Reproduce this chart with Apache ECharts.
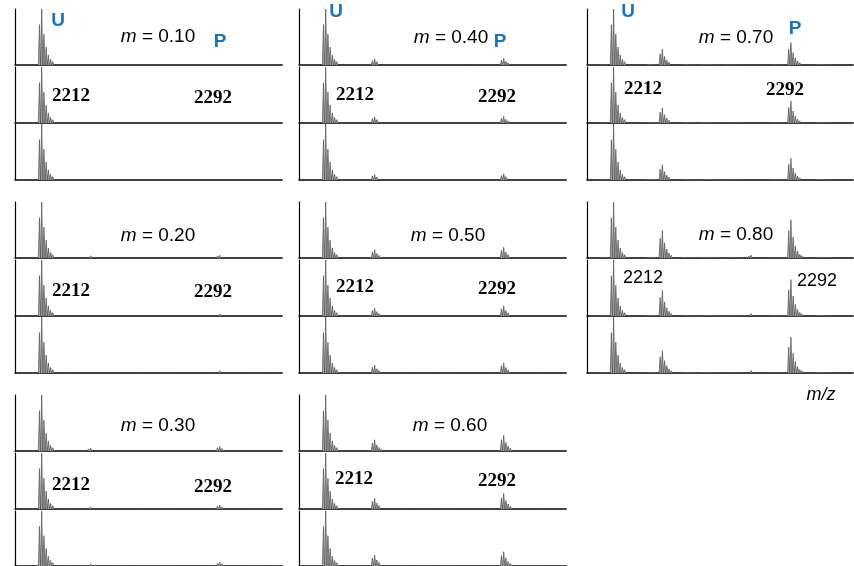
<!DOCTYPE html>
<html>
<head>
<meta charset="utf-8">
<script src="https://cdn.jsdelivr.net/npm/echarts@6/dist/echarts.min.js"></script>
<style>
html,body{margin:0;padding:0;background:#fff;}
#chart{width:854px;height:566px;}
</style>
</head>
<body>
<div id="chart"></div>
<script>
// ---- data ----
const mLabels = ['0.10', '0.20', '0.30', '0.40', '0.50', '0.60', '0.70', '0.80'];
const mzRange = [2200, 2320];
// isotope envelope relative to the most intense isotope (offset in Da from it)
const isotopeOffset = [-1, 0, 1, 2, 3, 4, 5, 6, 7];
const isotopeRatio = [0.72, 1.0, 0.55, 0.32, 0.18, 0.10, 0.06, 0.035, 0.02];
// most intense isotope of each cluster: U, U+Na, minor, P, P+Na
const clusterMz = [2212, 2234, 2274, 2292, 2314];
// relative heights (U = 1), three replicate traces per m value
const uHeight = [[1, 1, 1], [1, 1, 1], [1, 1, 1], [1, 1, 1], [1, 1, 1], [1, 1, 1], [1, 1, 1], [1, 1, 1]];
const naHeight = [[0.03, 0.03, 0.03], [0.04, 0.03, 0.03], [0.05, 0.04, 0.04], [0.11, 0.11, 0.10],
                  [0.15, 0.14, 0.14], [0.20, 0.19, 0.20], [0.28, 0.27, 0.27], [0.49, 0.46, 0.40]];
const minorHeight = [[0.01, 0.01, 0.01], [0.01, 0.01, 0.01], [0.012, 0.01, 0.01], [0.015, 0.015, 0.015],
                     [0.02, 0.02, 0.02], [0.02, 0.02, 0.02], [0.03, 0.03, 0.03], [0.05, 0.045, 0.045]];
const pHeight = [[0.03, 0.03, 0.025], [0.05, 0.04, 0.04], [0.08, 0.07, 0.07], [0.12, 0.12, 0.11],
                 [0.19, 0.18, 0.18], [0.28, 0.28, 0.26], [0.40, 0.39, 0.39], [0.68, 0.65, 0.64]];
const pNaHeight = [[0.01, 0.01, 0.01], [0.01, 0.01, 0.01], [0.01, 0.01, 0.01], [0.012, 0.012, 0.012],
                   [0.015, 0.015, 0.015], [0.015, 0.015, 0.015], [0.02, 0.02, 0.02], [0.025, 0.025, 0.025]];
// small baseline features
const noiseMz = [2205, 2227, 2243, 2251, 2262, 2283, 2303, 2318];
const noiseHeight = [0.008, 0.016, 0.012, 0.01, 0.008, 0.008, 0.01, 0.008];

// ---- layout ----
const colLeft = [15, 299, 587];
const colWidth = [267, 267, 266];
const groupTops = [[9, 67, 124], [202, 260, 317], [395, 453, 511]];
const panelH = 56;

const mPos = [[158, 37], [158, 236], [158, 426], [451, 38], [448, 236], [450, 426], [736, 38], [736, 235]];
const l2212Pos = [[71, 96], [71, 291], [71, 485], [355, 95], [355, 287], [354, 479], [643, 89], [643, 278]];
const l2292Pos = [[213, 98], [213, 292], [213, 487], [497, 97], [497, 289], [497, 481], [785, 90], [817, 281]];
const blue = '#1b75bb';

function buildSpectrum(i, r) {
  const heights = [uHeight[i][r], naHeight[i][r], minorHeight[i][r], pHeight[i][r], pNaHeight[i][r]];
  const peaks = [];
  clusterMz.forEach((mz, c) => {
    isotopeOffset.forEach((o, k) => peaks.push([mz + o, heights[c] * isotopeRatio[k], 0.5]));
  });
  noiseMz.forEach((mz, k) => {
    peaks.push([mz, noiseHeight[k], 0.45]);
    peaks.push([mz + 1, noiseHeight[k] * 0.7, 0.45]);
  });
  peaks.sort((a, b) => a[0] - b[0]);
  const pts = [[mzRange[0], 0]];
  peaks.forEach(p => {
    pts.push([p[0] - p[2], 0]);
    pts.push([p[0], p[1]]);
    pts.push([p[0] + p[2], 0]);
  });
  pts.push([mzRange[1], 0]);
  return pts;
}

const grids = [], xAxes = [], yAxes = [], series = [];
mLabels.forEach((m, i) => {
  const col = Math.floor(i / 3), grp = i % 3;
  for (let r = 0; r < 3; r++) {
    const idx = grids.length;
    grids.push({ left: colLeft[col], top: groupTops[grp][r], width: colWidth[col], height: panelH });
    xAxes.push({
      gridIndex: idx, type: 'value', min: mzRange[0], max: mzRange[1],
      axisLine: { show: true, lineStyle: { color: '#000', width: 1.5 } },
      axisTick: { show: false }, axisLabel: { show: false }, splitLine: { show: false }
    });
    yAxes.push({
      gridIndex: idx, type: 'value', min: 0, max: 1,
      axisLine: { show: true, lineStyle: { color: '#000', width: 1.2 } },
      axisTick: { show: false }, axisLabel: { show: false }, splitLine: { show: false }
    });
    series.push({
      type: 'line', xAxisIndex: idx, yAxisIndex: idx, data: buildSpectrum(i, r),
      showSymbol: false, symbol: 'none', sampling: null, silent: true,
      lineStyle: { color: '#505050', width: 0.7 },
      areaStyle: { color: '#a8a8a8', opacity: 1 }
    });
  }
});

const graphic = [];
mLabels.forEach((m, i) => {
  graphic.push({
    type: 'text', x: mPos[i][0], y: mPos[i][1],
    style: {
      text: '{i|m} = ' + m, align: 'center', verticalAlign: 'middle',
      fontFamily: 'Liberation Sans, Arial, sans-serif', fontSize: 19, fill: '#000',
      rich: { i: { fontStyle: 'italic', fontFamily: 'Liberation Sans, Arial, sans-serif', fontSize: 19 } }
    }
  });
  const sans = (i === 7);
  const font = sans ? 'Liberation Sans, Arial, sans-serif' : 'Liberation Serif, Times New Roman, serif';
  [[l2212Pos[i], '2212'], [l2292Pos[i], '2292']].forEach(([p, t]) => {
    graphic.push({
      type: 'text', x: p[0], y: p[1],
      style: { text: t, align: 'center', verticalAlign: 'middle', fontFamily: font,
               fontSize: sans ? 18 : 19, fontWeight: sans ? 'normal' : 'bold', fill: '#000' }
    });
  });
});
[[58, 21, 'U'], [336, 12, 'U'], [628, 12, 'U'], [220, 42, 'P'], [500, 42, 'P'], [795, 29, 'P']].forEach(([x, y, t]) => {
  graphic.push({
    type: 'text', x: x, y: y,
    style: { text: t, align: 'center', verticalAlign: 'middle', fontFamily: 'Liberation Sans, Arial, sans-serif',
             fontSize: 19, fontWeight: 'bold', fill: blue }
  });
});
graphic.push({
  type: 'text', x: 821, y: 395,
  style: { text: 'm/z', align: 'center', verticalAlign: 'middle', fontFamily: 'Liberation Sans, Arial, sans-serif',
           fontSize: 18, fontStyle: 'italic', fill: '#000' }
});

const chart = echarts.init(document.getElementById('chart'), null, { renderer: 'canvas' });
chart.setOption({
  animation: false,
  backgroundColor: '#fff',
  grid: grids, xAxis: xAxes, yAxis: yAxes, series: series, graphic: graphic
});
</script>
</body>
</html>
